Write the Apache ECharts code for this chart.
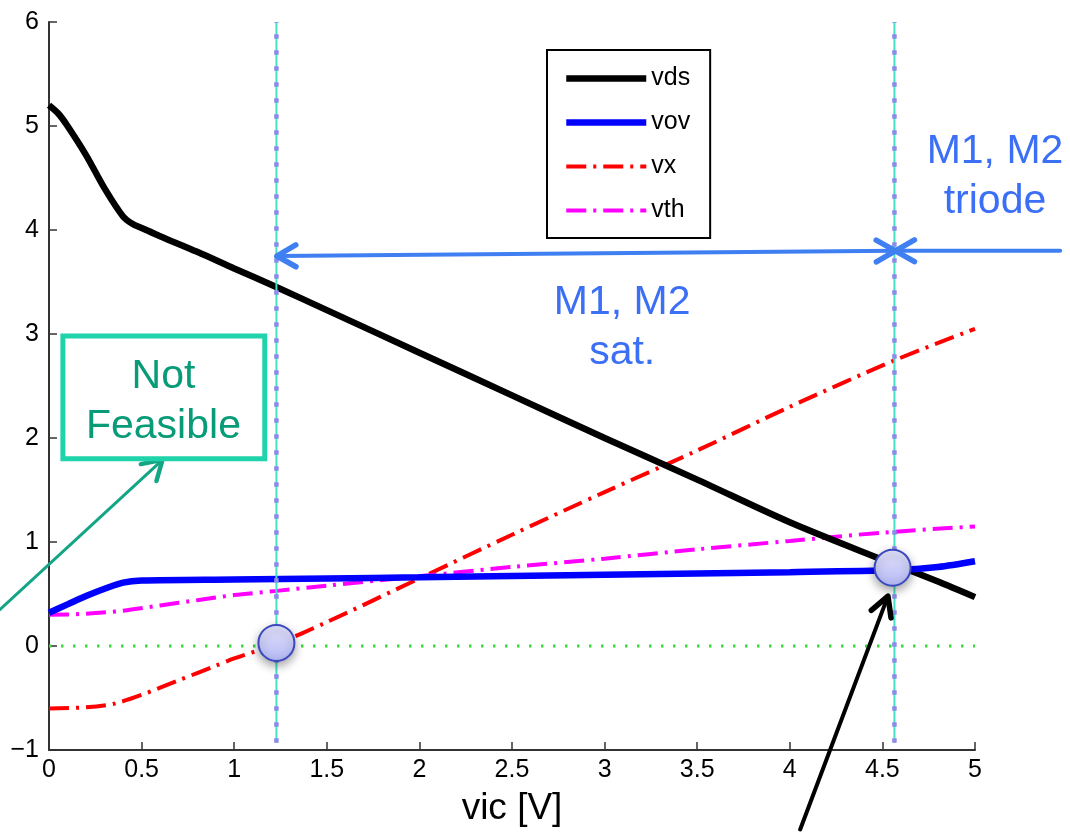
<!DOCTYPE html>
<html><head><meta charset="utf-8">
<script src="https://cdn.jsdelivr.net/npm/echarts@6/dist/echarts.min.js"></script>
<style>html,body{margin:0;padding:0;background:#fff}#c{width:1070px;height:832px}</style>
</head><body><div id="c"></div>
<script>
// ---- data ----
const vdsX = [0,0.05,0.1,0.2,0.3,0.4,0.45,0.5,0.6,0.8,1.0,1.23,1.5,2.0,2.5,3.0,3.5,4.0,4.5,4.8,5.0];
const vdsY = [5.2,5.12,5.0,4.72,4.4,4.13,4.06,4.02,3.94,3.79,3.63,3.45,3.23,2.82,2.41,2.0,1.6,1.19,0.83,0.62,0.47];
const vovX = [0,0.1,0.2,0.3,0.4,0.5,1.0,1.5,2.0,3.0,4.0,4.57,4.8,5.0];
const vovY = [0.32,0.40,0.48,0.55,0.61,0.63,0.64,0.65,0.66,0.685,0.71,0.73,0.76,0.815];
const vxX = [0,0.2,0.35,0.5,0.7,0.9,1.0,1.23,1.5,2.0,2.5,3.0,3.5,4.0,4.57,5.0];
const vxY = [-0.6,-0.59,-0.555,-0.47,-0.33,-0.19,-0.12,0.02,0.23,0.65,1.07,1.48,1.88,2.3,2.75,3.05];
const vthX = [0,0.2,0.4,0.6,0.8,1.0,1.23,1.5,2.0,2.5,3.0,3.5,4.0,4.5,5.0];
const vthY = [0.30,0.31,0.34,0.39,0.44,0.49,0.53,0.58,0.67,0.76,0.84,0.93,1.01,1.09,1.15];
const zeroLine = [[0,0],[5,0]];
const boundaryX = [1.228, 4.565];
const boundaryY = [-0.93, 6];
const operatingPoints = [[1.228, 0.03], [4.555, 0.753]];
const seriesNames = ['vds','vov','vx','vth'];
const xTicks = {min:0, max:5, interval:0.5};
const yTicks = {min:-1, max:6, interval:1};
// annotations (data coordinates)
const satArrow = [[1.23,3.75],[4.57,3.80]];
const triodeArrow = [[5.46,3.80],[4.57,3.80]];
const blackArrow = [[4.056,-1.764],[4.53,0.48]];
const greenArrow = [[-0.32,0.26],[0.6125,1.79]];
const notFeasibleBox = [[0.075,2.98],[1.165,1.80]];
const labelSat = {text:'M1, M2\nsat.', at:[3.095,3.06]};
const labelTriode = {text:'M1, M2\ntriode', at:[5.108,4.51]};
const labelNF = {text:'Not\nFeasible', at:[0.618,2.35]};

const zip = (a,b) => a.map((v,i)=>[v,b[i]]);
const FONT = '"Liberation Sans", Arial, Helvetica, sans-serif';
const dashDot = [20,7,3,7];
const styles = {
  vds:{color:'#000000', width:6.5, type:'solid'},
  vov:{color:'#0000ff', width:6.5, type:'solid'},
  vx:{color:'#ff0000', width:4, type:dashDot},
  vth:{color:'#ff00ff', width:4, type:dashDot}
};

const chart = echarts.init(document.getElementById('c'), null, {renderer:'canvas'});

const vlines = [];
boundaryX.forEach((x,i)=>{
  const d = [[x,boundaryY[0]],[x,boundaryY[1]]];
  vlines.push({type:'line', name:'b'+i, data:d, symbol:'none', silent:true, z:5,
    lineStyle:{color:'#45e0c6', width:2}});
  vlines.push({type:'line', name:'bd'+i, data:d, symbol:'none', silent:true, z:6,
    lineStyle:{color:'#8a8ce8', width:4.5, type:[4.5,11.5]}});
});

const curves = [[vdsX,vdsY],[vovX,vovY],[vxX,vxY],[vthX,vthY]].map((c,i)=>{
  const nm = seriesNames[i], s = styles[nm];
  return {type:'line', name:nm, data:zip(c[0],c[1]), symbol:'none', smooth:0.3, z: i<2?3:2,
    lineStyle:{color:s.color, width:s.width, type:s.type}, itemStyle:{color:s.color}};
});

const option = {
  animation:false,
  backgroundColor:'#fff',
  grid:{left:49, right:95, top:22, bottom:80, containLabel:false},
  legend:{
    data:seriesNames.map(n=>({name:n, lineStyle:{width:styles[n].width, type:styles[n].type, color:styles[n].color}})),
    orient:'vertical', left:547, top:50,
    padding:[16,20,15,16], itemWidth:80, itemHeight:20, itemGap:19,
    borderColor:'#000', borderWidth:2, backgroundColor:'#fff',
    itemStyle:{opacity:0},
    textStyle:{fontSize:25, color:'#000', fontFamily:FONT}
  },
  xAxis:{type:'value', min:xTicks.min, max:xTicks.max, interval:xTicks.interval,
    name:'vic [V]', nameLocation:'middle', nameGap:40,
    nameTextStyle:{fontSize:37, color:'#000', fontFamily:FONT},
    axisLine:{onZero:false, lineStyle:{color:'#333', width:2}},
    axisTick:{inside:true, length:8, lineStyle:{color:'#333', width:1.5}},
    axisLabel:{fontSize:25, color:'#000', fontFamily:FONT, margin:8,
      formatter:v=>String(Math.round(v*10)/10)},
    splitLine:{show:false}},
  yAxis:{type:'value', min:yTicks.min, max:yTicks.max, interval:yTicks.interval,
    axisLine:{show:true, onZero:false, lineStyle:{color:'#333', width:2}},
    axisTick:{show:true, inside:true, length:8, lineStyle:{color:'#333', width:1.5}},
    axisLabel:{fontSize:25, color:'#000', fontFamily:FONT, margin:10,
      formatter:v=> v<0 ? '\u2212'+Math.abs(v) : String(v)},
    splitLine:{show:false}},
  series:[
    {type:'line', name:'zero', data:zeroLine, symbol:'none', silent:true, z:1,
      lineStyle:{color:'#33dd33', width:3, type:[2.5,9.5]}},
    ...curves,
    ...vlines,
    {type:'scatter', name:'op', data:operatingPoints, symbolSize:36, z:10, silent:true,
      itemStyle:{opacity:1,
        color:new echarts.graphic.LinearGradient(0,0,0,1,[{offset:0,color:'#e6e6fd'},{offset:1,color:'#b2b6f3'}]),
        borderColor:'#3a48c0', borderWidth:2,
        shadowBlur:10, shadowColor:'rgba(0,0,0,0.35)', shadowOffsetY:4}}
  ]
};
chart.setOption(option);

// ---- annotations placed through the axes' scales ----
const P = p => chart.convertToPixel({xAxisIndex:0, yAxisIndex:0}, p);
function head(tip, from, color, w, L, ang){
  const dx = tip[0]-from[0], dy = tip[1]-from[1];
  const n = Math.hypot(dx,dy), ux = dx/n, uy = dy/n;
  const r = (a)=>[tip[0]-L*(ux*Math.cos(a)-uy*Math.sin(a)), tip[1]-L*(uy*Math.cos(a)+ux*Math.sin(a))];
  return {type:'polyline', z:200, shape:{points:[r(ang), tip, r(-ang)]},
    style:{stroke:color, lineWidth:w, fill:null, lineCap:'round', lineJoin:'round'}};
}
function arrow(seg, color, w, both, L, ang){
  const a = P(seg[0]), b = P(seg[1]);
  const els = [{type:'line', z:200, shape:{x1:a[0],y1:a[1],x2:b[0],y2:b[1]},
    style:{stroke:color, lineWidth:w, lineCap:'round'}}];
  els.push(head(b, a, color, w+1.5, L, ang));
  if (both) els.push(head(a, b, color, w+1.5, L, ang));
  return els;
}
function label(l, color, size, lh){
  const p = P(l.at);
  return {type:'text', z:200, x:p[0], y:p[1],
    style:{text:l.text, fill:color, font:size+'px '+FONT, align:'center', verticalAlign:'middle', lineHeight:lh}};
}
const b0 = P(notFeasibleBox[0]), b1 = P(notFeasibleBox[1]);
const graphics = [
  ...arrow(satArrow, '#3f7ff2', 4, true, 22, 0.52),
  ...arrow(triodeArrow, '#3f7ff2', 4, false, 22, 0.52),
  ...arrow(blackArrow, '#000', 4, false, 22, 0.5),
  ...arrow(greenArrow, '#13a585', 3, false, 22, 0.55),
  {type:'rect', z:200, shape:{x:b0[0], y:b0[1], width:b1[0]-b0[0], height:b1[1]-b0[1]},
    style:{stroke:'#1fd4aa', lineWidth:5, fill:null}},
  label(labelSat, '#3b6ff5', 41, 50),
  label(labelTriode, '#3b6ff5', 41, 50),
  label(labelNF, '#089b78', 41, 50)
];
chart.setOption({graphic:graphics});
</script></body></html>
